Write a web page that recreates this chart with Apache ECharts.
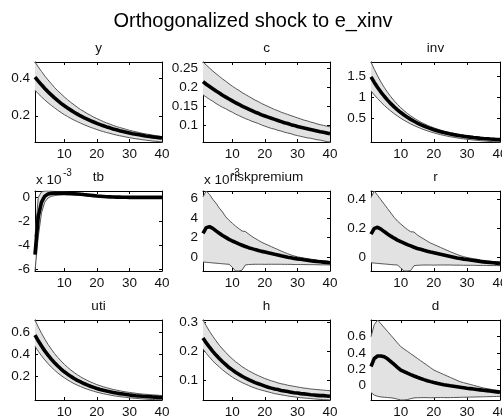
<!DOCTYPE html>
<html><head><meta charset="utf-8">
<script src="https://cdn.jsdelivr.net/npm/echarts@6/dist/echarts.min.js"></script>
<style>html,body{margin:0;padding:0;background:#fff}#main{width:502px;height:416px}</style>
</head><body><div id="main"></div>
<script>
// ---------- DATA ----------
const horizon = [1,2,3,4,5,6,7,8,9,10,11,12,13,14,15,16,17,18,19,20,21,22,23,24,25,26,27,28,29,30,31,32,33,34,35,36,37,38,39,40];
const xTicks = [10,20,30,40];

const y_mean  = [.405,.384,.364,.345,.327,.311,.295,.280,.266,.253,.241,.230,.219,.209,.199,.190,.182,.174,.167,.160,.153,.147,.141,.136,.130,.126,.121,.117,.113,.109,.105,.102,.099,.096,.093,.091,.088,.086,.084,.082];
const y_upper = [.485,.459,.435,.411,.390,.370,.350,.332,.316,.300,.285,.271,.258,.245,.233,.223,.212,.203,.193,.185,.177,.169,.162,.156,.149,.143,.138,.133,.128,.123,.119,.115,.111,.107,.104,.101,.098,.095,.092,.090];
const y_lower = [.335,.317,.300,.284,.269,.255,.242,.229,.217,.206,.196,.186,.177,.169,.161,.153,.146,.139,.133,.127,.121,.116,.111,.107,.102,.098,.094,.091,.087,.084,.081,.078,.076,.073,.071,.069,.066,.065,.063,.061];

const c_mean  = [.215,.208,.202,.196,.190,.185,.179,.174,.169,.164,.159,.155,.150,.146,.142,.138,.134,.131,.127,.124,.121,.118,.115,.112,.109,.106,.104,.101,.099,.096,.094,.092,.090,.088,.086,.084,.082,.081,.079,.077];
const c_upper = [.267,.259,.251,.243,.236,.229,.222,.216,.209,.203,.197,.192,.186,.181,.176,.171,.166,.162,.157,.153,.149,.145,.141,.138,.134,.131,.128,.125,.122,.119,.116,.113,.111,.108,.106,.103,.101,.099,.097,.095];
const c_lower = [.180,.174,.168,.163,.157,.152,.147,.143,.138,.134,.129,.125,.121,.117,.114,.110,.107,.104,.100,.097,.094,.091,.089,.086,.084,.081,.079,.077,.074,.072,.070,.068,.066,.065,.063,.061,.060,.058,.056,.055];

const inv_mean  = [1.480,1.351,1.233,1.124,1.026,0.935,0.852,0.776,0.707,0.643,0.585,0.532,0.483,0.439,0.398,0.361,0.327,0.296,0.267,0.241,0.217,0.195,0.175,0.157,0.140,0.125,0.111,0.098,0.086,0.076,0.066,0.057,0.049,0.041,0.034,0.028,0.022,0.017,0.012,0.008];
const inv_upper = [1.830,1.658,1.503,1.361,1.235,1.119,1.015,0.921,0.835,0.757,0.687,0.623,0.565,0.513,0.465,0.422,0.383,0.347,0.314,0.284,0.257,0.233,0.210,0.190,0.172,0.155,0.140,0.126,0.113,0.102,0.091,0.081,0.073,0.064,0.057,0.051,0.044,0.039,0.034,0.029];
const inv_lower = [1.150,1.057,0.970,0.888,0.813,0.743,0.678,0.617,0.562,0.509,0.462,0.418,0.376,0.339,0.304,0.272,0.242,0.215,0.190,0.167,0.145,0.125,0.107,0.091,0.075,0.062,0.049,0.037,0.025,0.016,0.007,-0.002,-0.009,-0.017,-0.023,-0.029,-0.035,-0.040,-0.044,-0.048];

// tb and riskpremium in units of 10^-3
const tb_mean  = [-4.8,-1.6,-0.4,0.1,0.28,0.33,0.35,0.35,0.35,0.34,0.33,0.32,0.3,0.28,0.26,0.23,0.2,0.17,0.14,0.11,0.09,0.07,0.05,0.04,0.03,0.02,0.015,0.01,0.01,0,0,0,0,0,0,0,0,0,0,0];
const tb_upper = [-3.3,0.0,0.45,0.53,0.53,0.52,0.5,0.48,0.46,0.44,0.42,0.4,0.38,0.36,0.33,0.3,0.27,0.24,0.21,0.18,0.15,0.13,0.11,0.09,0.08,0.07,0.06,0.05,0.04,0.04,0.03,0.03,0.03,0.02,0.02,0.02,0.02,0.02,0.02,0.02];
const tb_lower = [-6.17,-3.3,-1.3,-0.4,-0.05,0.08,0.14,0.18,0.2,0.21,0.21,0.2,0.19,0.18,0.16,0.14,0.12,0.1,0.08,0.06,0.04,0.02,0.01,0,-0.01,-0.02,-0.02,-0.02,-0.02,-0.03,-0.03,-0.03,-0.03,-0.03,-0.03,-0.03,-0.03,-0.03,-0.03,-0.03];

const rp_mean  = [2.4,3.0,3.1,2.93,2.67,2.43,2.2,2.0,1.8,1.63,1.48,1.33,1.2,1.07,0.95,0.85,0.75,0.66,0.57,0.5,0.42,0.35,0.27,0.2,0.12,0.05,-0.03,-0.09,-0.15,-0.2,-0.24,-0.29,-0.33,-0.39,-0.43,-0.47,-0.5,-0.53,-0.56,-0.59];
const rp_upper = [6.15,6.75,6.4,5.9,5.5,5.0,4.6,4.1,3.75,3.45,3.15,2.9,2.65,2.6,2.35,2.1,1.9,1.7,1.5,1.35,1.2,1.05,0.9,0.75,0.6,0.46,0.33,0.21,0.1,0.01,-0.05,-0.11,-0.17,-0.22,-0.27,-0.32,-0.36,-0.4,-0.44,-0.47];
const rp_lower = [-0.52,-0.55,-0.58,-0.61,-0.64,-0.67,-0.7,-0.73,-0.75,-1.05,-1.44,-1.44,-1.35,-0.82,-0.78,-0.76,-0.75,-0.75,-0.75,-0.76,-0.75,-0.75,-0.75,-0.75,-0.75,-0.76,-0.76,-0.76,-0.78,-0.78,-0.78,-0.78,-0.79,-0.79,-0.79,-0.8,-0.81,-0.81,-0.81,-0.82];

const r_mean  = [.16,.2,.207,.195,.178,.162,.147,.133,.12,.109,.099,.089,.08,.071,.063,.057,.05,.044,.038,.033,.028,.023,.018,.013,.008,.003,-.002,-.006,-.01,-.013,-.016,-.019,-.022,-.026,-.029,-.031,-.033,-.035,-.037,-.039];
const r_upper = [.41,.455,.425,.395,.365,.335,.305,.275,.25,.23,.21,.192,.177,.175,.155,.14,.127,.113,.1,.09,.08,.07,.06,.05,.04,.031,.022,.014,.007,.001,-.003,-.007,-.011,-.015,-.018,-.021,-.024,-.027,-.029,-.031];
const r_lower = [-.035,-.037,-.039,-.041,-.043,-.045,-.047,-.049,-.05,-.07,-.091,-.091,-.088,-.055,-.052,-.051,-.05,-.05,-.05,-.051,-.05,-.05,-.05,-.05,-.05,-.051,-.051,-.051,-.052,-.052,-.052,-.052,-.053,-.053,-.053,-.053,-.054,-.054,-.054,-.055];

const uti_mean  = [.573,.521,.473,.429,.390,.354,.321,.291,.264,.239,.217,.197,.178,.161,.146,.132,.119,.107,.097,.087,.078,.070,.063,.057,.051,.045,.040,.036,.032,.028,.024,.021,.019,.016,.014,.011,.010,.008,.006,.005];
const uti_upper = [.710,.647,.589,.536,.488,.445,.405,.369,.337,.307,.280,.255,.232,.212,.193,.176,.161,.147,.134,.122,.112,.102,.094,.086,.078,.072,.066,.060,.055,.051,.047,.043,.039,.036,.034,.031,.029,.027,.025,.023];
const uti_lower = [.470,.425,.384,.347,.313,.282,.254,.228,.205,.184,.165,.147,.131,.117,.104,.092,.081,.071,.062,.053,.046,.039,.033,.027,.022,.017,.013,.009,.006,.002,-.001,-.003,-.006,-.008,-.010,-.012,-.013,-.015,-.016,-.017];

const h_mean  = [.245,.228,.213,.199,.186,.174,.163,.153,.143,.135,.127,.120,.113,.107,.101,.096,.091,.087,.083,.079,.075,.072,.069,.067,.064,.062,.060,.058,.056,.055,.053,.052,.051,.049,.048,.047,.046,.046,.045,.044];
const h_upper = [.307,.287,.268,.251,.235,.220,.207,.195,.183,.173,.163,.155,.146,.139,.132,.126,.120,.115,.110,.105,.101,.097,.094,.090,.087,.085,.082,.080,.078,.076,.074,.072,.071,.069,.068,.067,.066,.065,.064,.063];
const h_lower = [.207,.192,.179,.166,.155,.145,.135,.126,.118,.110,.103,.097,.091,.086,.081,.076,.072,.068,.065,.062,.059,.056,.053,.051,.049,.047,.045,.043,.042,.040,.039,.038,.037,.036,.035,.034,.033,.032,.032,.031];

const d_mean  = [.23,.33,.36,.36,.35,.325,.29,.255,.22,.186,.166,.147,.129,.112,.096,.081,.067,.054,.042,.031,.021,.012,.004,-.003,-.01,-.016,-.022,-.028,-.034,-.04,-.045,-.05,-.055,-.06,-.065,-.07,-.075,-.08,-.085,-.09];
const d_upper = [.60,.75,.807,.76,.713,.665,.618,.571,.523,.476,.447,.418,.389,.36,.331,.302,.273,.244,.215,.186,.167,.149,.13,.112,.094,.076,.058,.04,.029,.018,.007,-.004,-.015,-.026,-.037,-.044,-.051,-.058,-.064,-.07];
const d_lower = [-.095,-.125,-.14,-.148,-.152,-.155,-.158,-.165,-.175,-.186,-.186,-.18,-.17,-.16,-.158,-.157,-.156,-.157,-.158,-.157,-.156,-.155,-.156,-.157,-.156,-.155,-.154,-.153,-.152,-.151,-.15,-.149,-.148,-.147,-.146,-.145,-.144,-.143,-.142,-.14];

const panelTitles = ['y','c','inv','tb','riskpremium','r','uti','h','d'];
const meanSeries  = [y_mean, c_mean, inv_mean, tb_mean, rp_mean, r_mean, uti_mean, h_mean, d_mean];
const upperSeries = [y_upper, c_upper, inv_upper, tb_upper, rp_upper, r_upper, uti_upper, h_upper, d_upper];
const lowerSeries = [y_lower, c_lower, inv_lower, tb_lower, rp_lower, r_lower, uti_lower, h_lower, d_lower];
const yLimMin = [0.061, 0.055, -0.048, -6.17, -1.44, -0.091, -0.018, 0.031, -0.186];
const yLimMax = [0.485, 0.267, 1.83, 0.53, 6.75, 0.455, 0.71, 0.307, 0.807];
const yTickValues = [[0.2,0.4],[0.1,0.15,0.2,0.25],[0.5,1,1.5],[-6,-4,-2,0],[0,2,4,6],[0,0.2,0.4],[0.2,0.4,0.6],[0.1,0.2,0.3],[0,0.2,0.4,0.6]];
const mainTitle = 'Orthogonalized shock to e_xinv';
const scaleNote = 'x 10';
const scaleExp = '-3';

// ---------- LAYOUT ----------
const FONT = '"Liberation Sans", Arial, Helvetica, sans-serif';
const colLeft = [35, 203, 371];
const colWidth = [127, 127, 129];
const rowTop = [62, 191, 320];
const PH = 80;

const grids = [], xAxes = [], yAxes = [], series = [], graphics = [];
const lineCol = '#000';
for (let p = 0; p < 9; p++) {
  const col = p % 3, row = Math.floor(p / 3);
  const PW = colWidth[col];
  grids.push({left: colLeft[col], top: rowTop[row], width: PW, height: PH, show: false,
              containLabel: false, outerBoundsMode: 'none'});
  const common = {
    gridIndex: p, type: 'value', min: 1, max: 40,
    axisLine: {show: true, onZero: false, lineStyle: {color: lineCol, width: 1}},
    axisTick: {show: true, inside: true, length: 3, customValues: xTicks, lineStyle: {color: lineCol}},
    splitLine: {show: false}
  };
  xAxes.push(Object.assign({}, common, {position: 'bottom',
    axisLabel: {show: true, customValues: xTicks, margin: 5, fontSize: 13.5, color: '#111', fontFamily: FONT,
                showMinLabel: true, showMaxLabel: true, hideOverlap: false}}));
  xAxes.push(Object.assign({}, common, {position: 'top', axisLabel: {show: false}}));
  const ycommon = {
    gridIndex: p, type: 'value', min: yLimMin[p], max: yLimMax[p],
    axisLine: {show: true, onZero: false, lineStyle: {color: lineCol, width: 1}},
    axisTick: {show: true, inside: true, length: 3, customValues: yTickValues[p], lineStyle: {color: lineCol}},
    splitLine: {show: false}
  };
  yAxes.push(Object.assign({}, ycommon, {position: 'left',
    axisLabel: {show: true, customValues: yTickValues[p], margin: 5, fontSize: 13.5, color: '#111', fontFamily: FONT}}));
  yAxes.push(Object.assign({}, ycommon, {position: 'right', axisLabel: {show: false}}));

  const lo = lowerSeries[p], up = upperSeries[p], mn = meanSeries[p];
  // shaded band between lower and upper bounds, drawn through the axis scales
  series.push({
    type: 'custom', xAxisIndex: 2*p, yAxisIndex: 2*p, silent: true, z: 1, clip: true,
    data: horizon.map((h, i) => [h, lo[i], up[i]]),
    encode: {x: 0, y: [1, 2]},
    renderItem: function (params, api) {
      if (params.dataIndex !== 0) return null;
      const pts = [];
      for (let i = 0; i < horizon.length; i++) pts.push(api.coord([horizon[i], up[i]]));
      for (let i = horizon.length - 1; i >= 0; i--) pts.push(api.coord([horizon[i], lo[i]]));
      return {type: 'polygon', shape: {points: pts}, style: {fill: '#e2e2e2', stroke: null}};
    }
  });
  series.push({
    type: 'line', xAxisIndex: 2*p, yAxisIndex: 2*p, symbol: 'none', silent: true, z: 3,
    lineStyle: {color: '#555', width: 1},
    data: horizon.map((h, i) => [h, lo[i]])
  });
  series.push({
    type: 'line', xAxisIndex: 2*p, yAxisIndex: 2*p, symbol: 'none', silent: true, z: 3,
    lineStyle: {color: '#555', width: 1},
    data: horizon.map((h, i) => [h, up[i]])
  });
  series.push({
    type: 'line', xAxisIndex: 2*p, yAxisIndex: 2*p, symbol: 'none', silent: true, z: 4,
    lineStyle: {color: '#000', width: 3.6},
    data: horizon.map((h, i) => [h, mn[i]])
  });
  graphics.push({type: 'text', x: colLeft[col] + PW/2, y: rowTop[row] - 14,
    style: {text: panelTitles[p], align: 'center', verticalAlign: 'middle', font: '13.5px ' + FONT, fill: '#111'}});
}
graphics.push({type: 'text', x: 253, y: 21,
  style: {text: mainTitle, align: 'center', verticalAlign: 'middle', font: '20px ' + FONT, fill: '#000'}});
[0, 1].forEach(col => {
  graphics.push({type: 'text', x: colLeft[col] + 1, y: rowTop[1] - 11,
    style: {text: scaleNote, align: 'left', verticalAlign: 'middle', font: '13.5px ' + FONT, fill: '#111'}});
  graphics.push({type: 'text', x: colLeft[col] + 28, y: rowTop[1] - 18,
    style: {text: scaleExp, align: 'left', verticalAlign: 'middle', font: '10px ' + FONT, fill: '#111'}});
});

const chart = echarts.init(document.getElementById('main'), null, {renderer: 'canvas'});
chart.setOption({
  animation: false,
  backgroundColor: '#fff',
  grid: grids, xAxis: xAxes, yAxis: yAxes, series: series,
  graphic: graphics
});
</script></body></html>
